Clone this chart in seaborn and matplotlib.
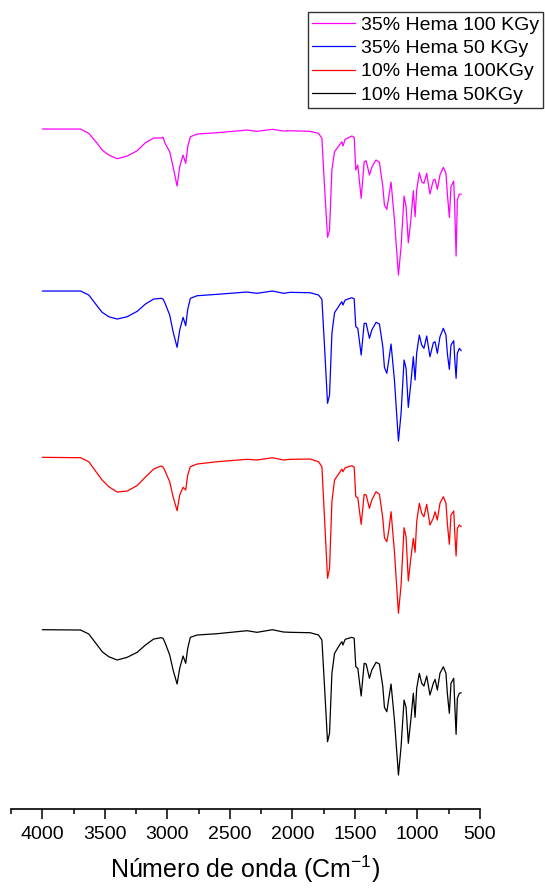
import numpy as np
import pandas as pd
import seaborn as sns
import matplotlib.pyplot as plt

# FTIR spectra, wavenumber grid (cm-1) shared by all four samples
wavenumber = [4000, 3694, 3628, 3561, 3521, 3468, 3401, 3321, 3241, 3175,
              3109, 3050, 3034, 3018, 2981, 2954, 2922, 2901, 2874, 2853,
              2837, 2816, 2762, 2603, 2363, 2283, 2159, 2071, 2017, 1858,
              1791, 1764, 1743, 1719, 1703, 1684, 1663, 1618, 1604, 1596,
              1578, 1525, 1506, 1493, 1477, 1450, 1426, 1410, 1384, 1365,
              1331, 1304, 1277, 1264, 1245, 1229, 1211, 1184, 1152, 1131,
              1107, 1091, 1073, 1053, 1033, 1019, 1006, 985, 966, 948,
              926, 900, 873, 859, 841, 820, 793, 772, 761, 745,
              732, 710, 702, 691, 681, 665, 650]

# transmittance (a.u., spectra stacked with offsets)
hema35_100 = [671, 671, 666.7, 656.7, 650, 645, 641.3, 644, 649.3, 657.3,
              662, 662, 662.7, 656.7, 648.3, 633.3, 614, 633.3, 645, 636.7,
              653.3, 663.3, 666, 667.3, 670, 668.7, 670.7, 669, 669.3, 668.7,
              666.7, 661.7, 613.3, 562.7, 570, 630, 648.3, 656, 658.3, 654,
              660.7, 664, 662.7, 630, 635, 601.7, 638.3, 639.3, 625, 632.7,
              640, 637.7, 613.3, 595, 590.7, 603.3, 618, 580, 525, 553.3,
              604, 593.3, 557.3, 580, 609.3, 583.3, 610, 627.3, 618.3, 616.7,
              626.7, 606, 620, 620.7, 610.7, 625, 632.7, 626.7, 606.7, 582.7,
              613.3, 619, 593.3, 544, 600, 606, 605.7]

hema35_50 = [509, 509, 505, 494, 487.7, 483.3, 481, 483.3, 488.7, 496,
             501, 501.7, 501, 496.7, 485, 468.3, 452.7, 470, 482.7, 474.3,
             490.7, 501.7, 504.3, 505.7, 508, 506.7, 509, 506.7, 507.7, 507.3,
             505, 500.7, 453.3, 396.7, 405, 466.7, 487.3, 496, 498.3, 495,
             500, 502.3, 501.3, 473.3, 471.7, 445, 476.7, 476.7, 461.7, 470,
             477.7, 476, 453.3, 432.7, 426.7, 440, 456, 420, 359, 386.7,
             440, 431.7, 392.7, 416.7, 443.3, 420, 447.3, 465, 455, 451.7,
             464, 443.3, 457.3, 458.3, 446.7, 463.3, 471.7, 465, 446.7, 430.7,
             455, 459.3, 441.7, 421.7, 446.7, 451.7, 449.3]

hema10_100 = [342.7, 342.3, 338.3, 326.7, 320, 313.3, 308, 309, 314.5, 323,
              331, 334, 333, 329, 318.3, 303.3, 289.3, 305, 312.7, 310,
              325, 333.3, 336, 338.3, 340.7, 340, 342.3, 340, 340.7, 341,
              338.3, 333.3, 281.7, 221.7, 231.7, 298.3, 320, 328.3, 331, 328.3,
              332.3, 334.3, 333, 303.3, 302.3, 275.7, 305.7, 305, 291.7, 300,
              308.3, 305.7, 281.7, 262.3, 258.3, 270, 288.3, 248.3, 186.7, 215,
              272.3, 263.3, 219, 241.7, 261.7, 247.7, 278.3, 296.7, 286.7, 283.3,
              295.7, 275, 282, 288.3, 280, 296.7, 303.3, 296.7, 276.7, 255.7,
              285, 289, 268.3, 244, 271.7, 275, 273.3]

hema10_50 = [170.3, 170, 166, 155, 148.3, 143.3, 140, 142.7, 147.7, 155,
             161, 162.3, 161.7, 157.3, 145, 130, 116, 131.7, 144, 136.7,
             151.7, 162.7, 165, 166.3, 169.3, 167.7, 170.3, 168, 167.7, 167.3,
             165, 160, 113.3, 58.3, 66.7, 126.7, 146.7, 156, 158.3, 155,
             160.7, 162.7, 161.7, 133.3, 131.7, 104, 136.7, 136, 121.7, 130,
             137.7, 136, 113.3, 92.7, 88.3, 101.7, 116, 80, 25, 53.3,
             100, 92.7, 56.7, 80, 106.7, 82.7, 111.7, 126.7, 116.7, 114,
             124, 105, 116.7, 120.7, 110, 126.7, 133.3, 126.7, 106.7, 86.7,
             116.7, 121.7, 96.7, 65.7, 101.7, 106.7, 107.3]

labels = ["35% Hema 100 KGy", "35% Hema 50 KGy", "10% Hema 100KGy", "10% Hema 50KGy"]
colors = ["#ff00ff", "#0000ff", "#ff0000", "#000000"]
series = [hema35_100, hema35_50, hema10_100, hema10_50]

df = pd.concat([pd.DataFrame({"wn": wavenumber, "T": s, "sample": lab})
                for s, lab in zip(series, labels)], ignore_index=True)

sns.set_style("white")
plt.rcParams['font.family'] = ['Liberation Sans', 'DejaVu Sans']
plt.rcParams['text.color'] = 'black'
plt.rcParams['axes.labelcolor'] = 'black'
plt.rcParams['xtick.color'] = 'black'

fig = plt.figure(figsize=(5.45, 8.9), dpi=100)
ax = fig.add_axes([0.0202, 0.0910, 0.8605, 0.7966])

sns.lineplot(data=df, x="wn", y="T", hue="sample", hue_order=labels,
             palette=colors, sort=False, estimator=None, linewidth=0.9, ax=ax)

ax.set_xlim(4250, 500)
ax.set_ylim(-9, 700)
ax.set_xticks([4000, 3500, 3000, 2500, 2000, 1500, 1000, 500])
ax.set_xticks(np.arange(4250, 499, -250), minor=True)
ax.set_yticks([])
ax.set_ylabel("")
ax.set_xlabel(r"Número de onda (Cm$^{\mathregular{-1}}$)", fontsize=18, labelpad=8,
              color="black")
for side in ["left", "top", "right"]:
    ax.spines[side].set_visible(False)
ax.spines["bottom"].set_linewidth(1.2)
ax.spines["bottom"].set_color("black")
ax.tick_params(axis="x", which="major", direction="out", length=7, width=1.1,
               labelsize=14, pad=5, bottom=True, colors="black")
ax.tick_params(axis="x", which="minor", direction="out", length=3.5, width=1.1,
               bottom=True, colors="black")

handles, _ = ax.get_legend_handles_labels()
ax.get_legend().remove()
leg = fig.legend(handles, labels, loc="upper right", bbox_to_anchor=(0.996, 0.9865),
                 fontsize=14, frameon=True, fancybox=False, borderpad=0.2,
                 labelspacing=0.3, handlelength=2.2, handletextpad=0.3,
                 borderaxespad=0)
leg.get_frame().set_edgecolor("black")
leg.get_frame().set_linewidth(1.0)
for t in leg.get_texts():
    t.set_color("black")

plt.savefig("out.png", dpi=100)
plt.close()
